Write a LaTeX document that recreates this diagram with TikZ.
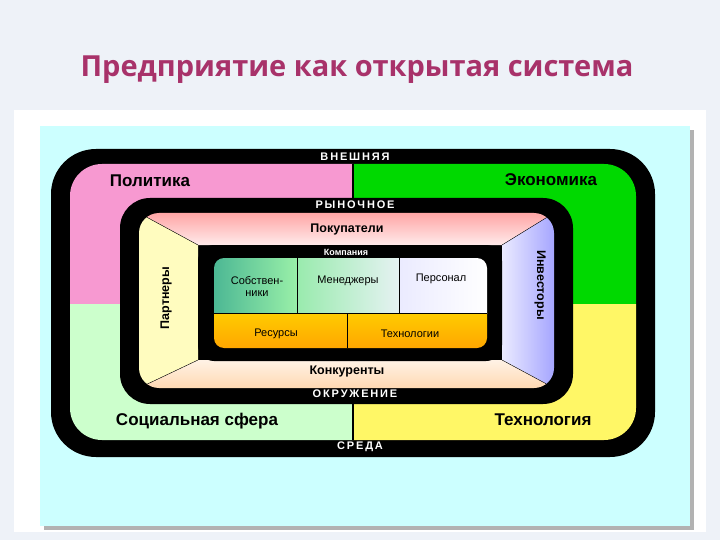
\documentclass[tikz,border=0pt]{standalone}
\usepackage{fontspec}
\setmainfont{Liberation Sans}
\newfontfamily\titlefont{Open Sans}
\begin{document}
\begin{tikzpicture}[x=1pt,y=-1pt,
  lbl/.style={font=\bfseries\fontsize{17}{17}\selectfont},
  mid/.style={font=\bfseries\fontsize{12.5}{12.5}\selectfont},
  cell/.style={font=\fontsize{11}{12}\selectfont,align=center},
  band/.style={font=\bfseries\fontsize{11}{11}\selectfont,text=white}]
\definecolor{slide}{HTML}{EEF2F8}
\definecolor{titlec}{HTML}{A8326A}
\definecolor{frame}{HTML}{CCFFFF}
\useasboundingbox (0,0) rectangle (720,540);
\fill[slide] (0,0) rectangle (720,540);
\fill[white] (14,110) rectangle (706,532);
\fill[gray!60] (44,130) rectangle (694,530);
\fill[frame] (40,126) rectangle (690,526);
\node[titlec,font=\titlefont\bfseries\fontsize{29}{29}\selectfont] (title) at (357,70) {Предприятие как открытая система};
% outer band
\fill[black,rounded corners=45] (51,149) rectangle (655,457);
\begin{scope}
\clip[rounded corners=32] (70,164) rectangle (636,440);
\fill[magenta!40] (60,150) rectangle (353,304);
\fill[green!85!black] (353,150) rectangle (650,304);
\fill[green!20] (60,304) rectangle (353,450);
\fill[yellow!60] (353,304) rectangle (650,450);
\draw[black,line width=1.5] (353,150) -- (353,450);
\end{scope}
% middle band
\fill[black,rounded corners=30] (120,198) rectangle (573,404);
\begin{scope}
\clip[rounded corners=20] (139,213) rectangle (554,388);
\shade[top color=red!35,bottom color=red!8] (139,213) -- (554,213) -- (502,245) -- (198,245) -- cycle;
\fill[yellow!25] (139,213) -- (198,245) -- (198,360) -- (139,388) -- cycle;
\shade[left color=blue!8,right color=blue!35] (554,213) -- (502,245) -- (502,360) -- (554,388) -- cycle;
\shade[top color=orange!10,bottom color=orange!30] (139,388) -- (198,360) -- (502,360) -- (554,388) -- cycle;
\draw[black,thin] (139,213) -- (198,245) (554,213) -- (502,245) (139,388) -- (198,360) (554,388) -- (502,360);
\end{scope}
% inner band
\fill[black,rounded corners=16] (198,245) rectangle (502,361);
\begin{scope}
\clip[rounded corners=10] (214,258) rectangle (487,348);
\shade[left color=teal!80!green!70,right color=teal!30!green!40] (214,258) rectangle (297,313);
\shade[left color=teal!40!green!40,right color=teal!10] (297,258) rectangle (399,313);
\shade[left color=blue!8,right color=white] (399,258) rectangle (487,313);
\shade[top color=orange!40!yellow,bottom color=orange!70!yellow] (214,313) rectangle (487,348);
\draw[black] (297,258) -- (297,313) (399,258) -- (399,313) (347,313) -- (347,348) (214,313) -- (487,313);
\end{scope}
% labels
\node[band] (vn) at (355,157) {В\,Н\,Е\,Ш\,Н\,Я\,Я};
\node[band] (ry) at (355,205) {Р\,Ы\,Н\,О\,Ч\,Н\,О\,Е};
\node[band] (ok) at (355,394) {О\,К\,Р\,У\,Ж\,Е\,Н\,И\,Е};
\node[band] (sr) at (360,447) {С\,Р\,Е\,Д\,А};
\node[lbl] (pol) at (150,181) {Политика};
\node[lbl] (eco) at (551,180) {Экономика};
\node[lbl] (soc) at (197,421) {Социальная сфера};
\node[lbl] (tex) at (543,420) {Технология};
\node[mid] (pok) at (347,229) {Покупатели};
\node[mid] (kon) at (347,371) {Конкуренты};
\node[mid,rotate=90] (par) at (166,298) {Партнеры};
\node[mid,rotate=-90] (inv) at (540,285) {Инвесторы};
\node[font=\bfseries\fontsize{9}{9}\selectfont,text=white] (kom) at (346,252) {Компания};
\node[cell] (sob) at (257,286) {Собствен-\\ники};
\node[cell] (men) at (348,281) {Менеджеры};
\node[cell] (per) at (441,279) {Персонал};
\node[cell] (res) at (276,334) {Ресурсы};
\node[cell] (tx) at (410,334) {Технологии};
\end{tikzpicture}
\end{document}
